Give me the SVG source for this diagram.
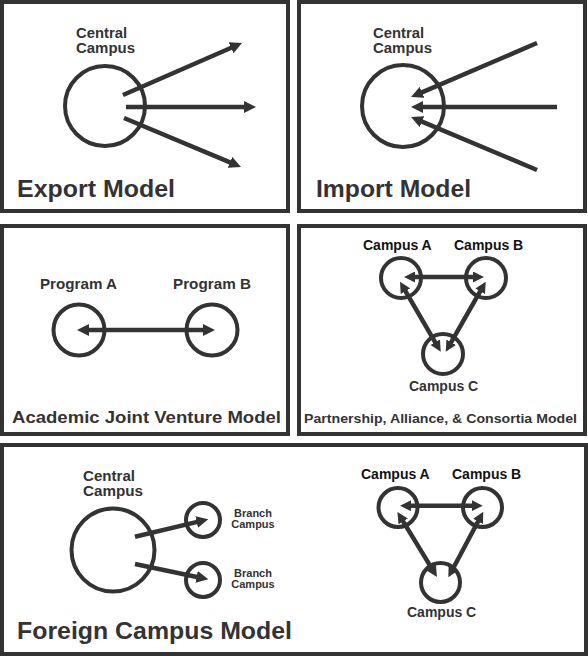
<svg xmlns="http://www.w3.org/2000/svg" width="588" height="656" viewBox="0 0 588 656">
<style>
.panel{fill:#fff;stroke:#333;stroke-width:4}
.node{fill:none;stroke:#333;stroke-width:4}
.conn line{stroke:#333;stroke-width:4.5}
.big line{marker-end:url(#ah)}
.dbl{marker-start:url(#ah);marker-end:url(#ah)}
.tri{marker-start:url(#ahs);marker-end:url(#ahs)}
text{font-family:"Liberation Sans",Arial,sans-serif;font-weight:bold;fill:#333}
.lbl{font-size:14.5px}
.sm{font-size:14px}
.dk{fill:#111}
.br{font-size:11px;text-anchor:middle}
.title{font-size:24px}
</style>
<defs>
<marker id="ah" markerUnits="userSpaceOnUse" markerWidth="12" markerHeight="12" viewBox="0 0 12 12" refX="4" refY="6" orient="auto-start-reverse"><path d="M0,0 L12,6 L0,12 z" fill="#333"/></marker>
<marker id="ahs" markerUnits="userSpaceOnUse" markerWidth="11" markerHeight="11" viewBox="0 0 11 11" refX="3" refY="5.5" orient="auto-start-reverse"><path d="M0,0 L11,5.5 L0,11 z" fill="#333"/></marker>
</defs>
<rect width="588" height="656" fill="#fff"/>
<g id="panels">
<rect class="panel" x="2" y="2" width="286" height="209"/>
<rect class="panel" x="299" y="2" width="286" height="209"/>
<rect class="panel" x="2" y="226" width="286" height="208"/>
<rect class="panel" x="299" y="226" width="286" height="208"/>
<rect class="panel" x="2" y="445" width="584" height="209"/>
</g>
<g id="export-central"><circle class="node" cx="105" cy="106" r="40"/><text class="lbl" x="76" y="38" textLength="51" lengthAdjust="spacingAndGlyphs">Central</text><text class="lbl" x="76" y="53" textLength="59" lengthAdjust="spacingAndGlyphs">Campus</text></g>
<g id="import-central"><circle class="node" cx="403" cy="106" r="41"/><text class="lbl" x="373" y="38" textLength="51" lengthAdjust="spacingAndGlyphs">Central</text><text class="lbl" x="373" y="53" textLength="59" lengthAdjust="spacingAndGlyphs">Campus</text></g>
<g id="program-a"><circle class="node" cx="79" cy="330" r="25.5"/><text class="lbl" x="40" y="289" textLength="77" lengthAdjust="spacingAndGlyphs">Program A</text></g>
<g id="program-b"><circle class="node" cx="212" cy="330" r="25.5"/><text class="lbl" x="173" y="289" textLength="78" lengthAdjust="spacingAndGlyphs">Program B</text></g>
<g id="p-campus-a"><circle class="node" cx="401" cy="278" r="20"/><text class="sm dk" x="363" y="250">Campus A</text></g>
<g id="p-campus-b"><circle class="node" cx="486" cy="278" r="20"/><text class="sm dk" x="454" y="250">Campus B</text></g>
<g id="p-campus-c"><circle class="node" cx="443" cy="354" r="20"/><text class="sm" x="409" y="391">Campus C</text></g>
<g id="f-central"><circle class="node" cx="113" cy="550" r="41.5"/><text class="lbl" x="83" y="481" textLength="52" lengthAdjust="spacingAndGlyphs">Central</text><text class="lbl" x="83" y="496" textLength="60" lengthAdjust="spacingAndGlyphs">Campus</text></g>
<g id="branch-1"><circle class="node" cx="203" cy="520" r="17"/><text class="br" x="253" y="517">Branch</text><text class="br" x="253" y="528">Campus</text></g>
<g id="branch-2"><circle class="node" cx="203" cy="580" r="17"/><text class="br" x="253" y="577">Branch</text><text class="br" x="253" y="588">Campus</text></g>
<g id="f-campus-a"><circle class="node" cx="398" cy="507.5" r="19.5"/><text class="sm dk" x="361" y="479">Campus A</text></g>
<g id="f-campus-b"><circle class="node" cx="482.5" cy="507.5" r="19.5"/><text class="sm dk" x="452" y="479">Campus B</text></g>
<g id="f-campus-c"><circle class="node" cx="440.5" cy="582.5" r="19.5"/><text class="sm" x="407" y="617">Campus C</text></g>
<g id="connectors" class="conn">
<g class="big">
<line x1="123" y1="95" x2="234.7" y2="46.2"/>
<line x1="126" y1="107" x2="248" y2="107"/>
<line x1="124" y1="118" x2="233.6" y2="163.9"/>
<line x1="537" y1="43" x2="418.4" y2="93.9"/>
<line x1="557" y1="107" x2="419" y2="107"/>
<line x1="537" y1="170" x2="418.4" y2="120.1"/>
<line x1="135" y1="536.7" x2="200.5" y2="521.1"/>
<line x1="135" y1="564" x2="200.5" y2="577.7"/>
</g>
<line class="dbl" x1="85" y1="330" x2="207" y2="330"/>
<line class="tri" x1="412" y1="277" x2="476" y2="277"/>
<line class="tri" x1="404" y1="288.6" x2="436.7" y2="344.8"/>
<line class="tri" x1="481.7" y1="288.6" x2="449.7" y2="344.8"/>
<line class="tri" x1="408" y1="505.7" x2="474.7" y2="505.7"/>
<line class="tri" x1="401.6" y1="518.8" x2="432.8" y2="570.2"/>
<line class="tri" x1="479.5" y1="518.8" x2="452.1" y2="570.2"/>
</g>
<g id="titles">
<text class="title" x="17" y="197" textLength="158" lengthAdjust="spacingAndGlyphs">Export Model</text>
<text class="title" x="316" y="197" textLength="155" lengthAdjust="spacingAndGlyphs">Import Model</text>
<text x="12" y="423" font-size="16.5" textLength="269" lengthAdjust="spacingAndGlyphs">Academic Joint Venture Model</text>
<text x="304" y="423" font-size="13" textLength="273" lengthAdjust="spacingAndGlyphs">Partnership, Alliance, &amp; Consortia Model</text>
<text class="title" x="17" y="639" textLength="275" lengthAdjust="spacingAndGlyphs">Foreign Campus Model</text>
</g>
</svg>
